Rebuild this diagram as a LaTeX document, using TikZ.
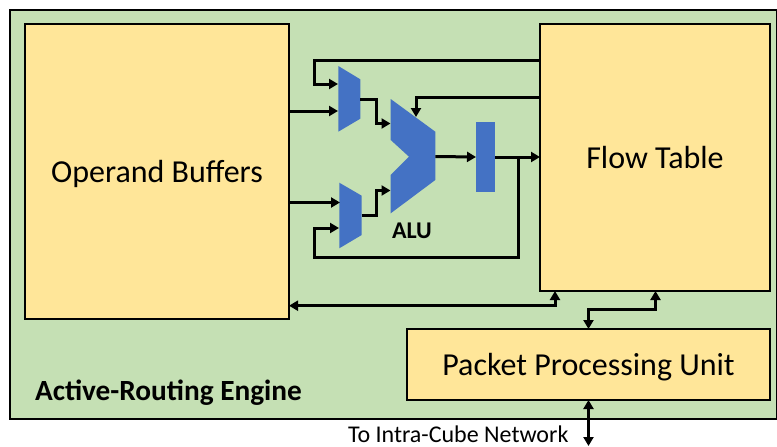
\documentclass[tikz,border=0pt]{standalone}
\usepackage{fontspec}
\setmainfont{Carlito}
\usetikzlibrary{arrows.meta,calc}
\definecolor{engine}{HTML}{C5E0B4}
\definecolor{boxfill}{HTML}{FFE699}
\definecolor{blk}{HTML}{4472C4}
\tikzset{
  x=1pt,y=-1pt,
  engbox/.style={draw=black,line width=1.8pt,fill=engine,minimum width=#1,inner sep=0pt,outer sep=0pt},
  unit/.style={draw=black,line width=1.8pt,fill=boxfill,inner sep=0pt,outer sep=0pt,font=\fontsize{32}{36}\selectfont},
  shapeblk/.style={fill=blk,draw=none},
  wire/.style={line width=3pt,draw=black,-{Triangle[length=9pt,width=10pt]}},
  biwire/.style={line width=3pt,draw=black,{Triangle[length=9pt,width=10pt]}-{Triangle[length=9pt,width=10pt]}},
  lab/.style={inner sep=0pt,outer sep=0pt,anchor=base west},
}
\begin{document}
\begin{tikzpicture}
\useasboundingbox (0,0) rectangle (777,447);
\fill[white] (0,0) rectangle (777,447);
\node[engbox=767pt,minimum height=409pt,anchor=north west] (engine) at (10,10) {};
\node[unit,minimum width=264pt,minimum height=295pt] (ob) at (157,171.5) {\raisebox{-10.75pt}[12pt][12pt]{Operand Buffers}};
\node[unit,minimum width=230pt,minimum height=267pt] (ft) at (655,157.5) {Flow Table};
\node[unit,minimum width=363pt,minimum height=71pt,anchor=north west] (ppu) at (407,329) {\raisebox{-10.5pt}[12pt][12pt]{Packet Processing Unit}};
% blocks
\fill[shapeblk] (338.3,66) -- (360.3,79.3) -- (360.3,118.7) -- (338.3,131.7) -- cycle;
\fill[shapeblk] (339.3,182.7) -- (361.7,195.7) -- (361.7,235) -- (339.3,248.3) -- cycle;
\fill[shapeblk] (390.7,99) -- (435.3,131.7) -- (435.3,180) -- (390.7,213.3) -- (390.7,175) -- (409,156.7) -- (390.7,140) -- cycle;
\node[shapeblk,minimum width=19pt,minimum height=70pt,inner sep=0pt,outer sep=0pt] (reg) at (485.5,157) {};
% ports
\coordinate (m1a) at (338,84);
\coordinate (m1b) at (338,111);
\coordinate (m1o) at (360,99);
\coordinate (m2a) at (340,202.5);
\coordinate (m2b) at (339,228);
\coordinate (m2o) at (361.5,215);
\coordinate (a1) at (390.5,123.5);
\coordinate (a2) at (390.5,190.5);
\coordinate (at) at (416,117);
\coordinate (ao) at (435.3,156.5);
\coordinate (br) at (518.7,157);
% wires
\draw[wire] (ft.west |- 0,60) -- (314,60) -- (314,84) -- (m1a);
\draw[wire] (ob.east |- m1b) -- (m1b);
\draw[wire] (m1o) -- (376,99) -- (376,123.5) -- (a1);
\draw[wire] (ft.west |- 0,97.5) -- (416,97.5) -- (at);
\draw[wire] (ao) -- (reg.west);
\draw[wire] (reg.east) -- (ft.west |- reg.east);
\draw[wire] (br) -- (518.7,257) -- (314,257) -- (314,228) -- (m2b);
\draw[wire] (ob.east |- m2a) -- (m2a);
\draw[wire] (m2o) -- (376,215) -- (376,190.5) -- (a2);
\draw[biwire] (ob.east |- 0,305.7) -- (555,305.7) -- (555,291);
\draw[biwire] (588.5,329) -- (588.5,309.5) -- (655.5,309.5) -- (655.5,291);
\coordinate (ext) at (588.5,446);
\draw[biwire] (ppu.south -| ext) -- (ext);
% labels
\node[lab,font=\bfseries\fontsize{24}{26}\selectfont] (alu) at (392,238) {ALU};
\node[lab,font=\bfseries\fontsize{29.3}{33}\selectfont] (title) at (35,400) {Active-Routing Engine};
\node[lab,font=\fontsize{24}{26}\selectfont] (net) at (348,442.5) {To Intra-Cube Network};
\end{tikzpicture}
\end{document}
